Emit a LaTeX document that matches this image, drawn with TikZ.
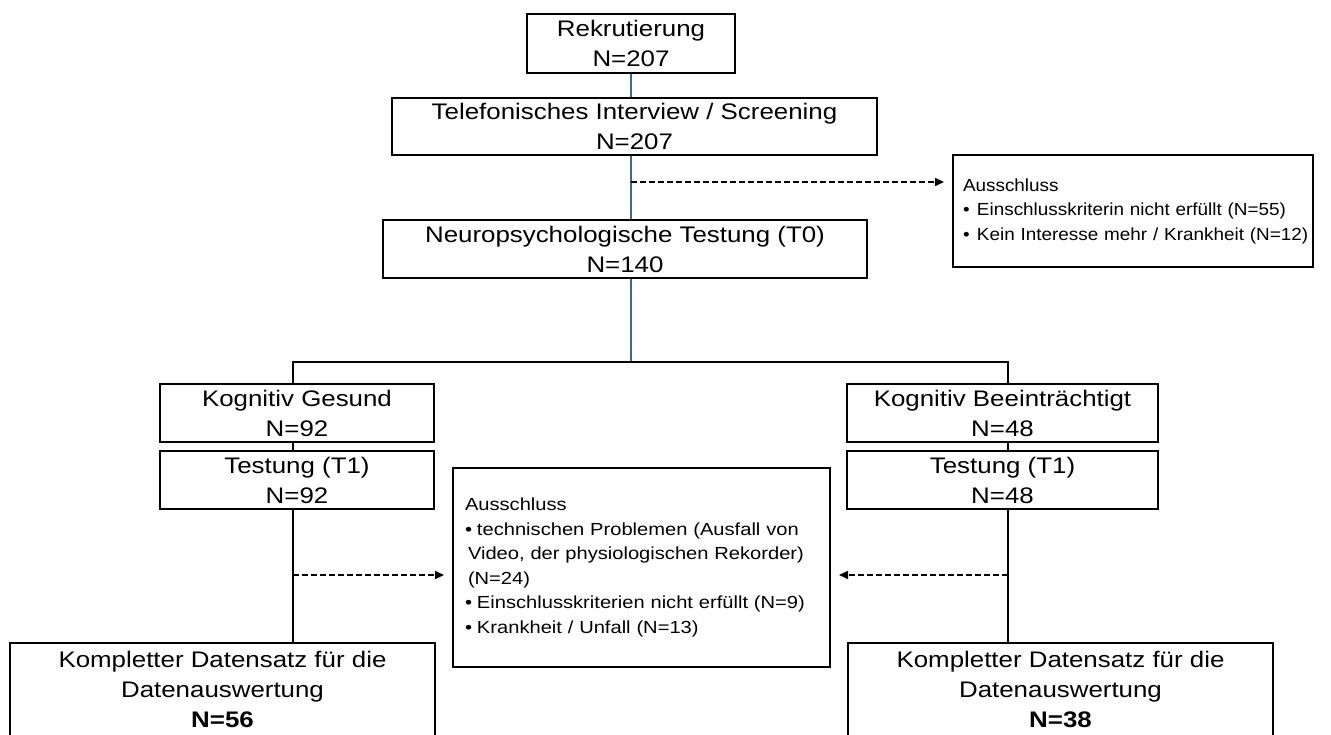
\documentclass[tikz,border=0pt]{standalone}
\usepackage{fontspec}
\setmainfont{Liberation Sans}[FakeStretch=1.15]
\newfontfamily\exnarrow{Liberation Sans}[FakeStretch=1.08]
\usetikzlibrary{arrows.meta}
\definecolor{connc}{HTML}{3A6A8C}
\newcommand\bigf{\fontsize{22.5pt}{30pt}\selectfont}
\newcommand\smallf{\fontsize{17.5pt}{24.5pt}\selectfont}
\newcommand\bul[1]{\makebox[#1][l]{•}}
\tikzset{
  box/.style={draw, line width=2pt, inner sep=0pt, align=center, font=\bigf},
  exbox/.style={draw, line width=2pt, inner ysep=0pt, align=left, font=\smallf},
  botbox/.style={draw, line width=2pt, inner sep=0pt, anchor=north},
  connline/.style={line width=2pt, draw=connc},
  blackline/.style={line width=2pt, draw=black},
  dasharrow/.style={line width=1.6pt, dash pattern=on 6pt off 3pt, -{Triangle[length=9pt,width=8pt]}, shorten >=8pt}
}
\begin{document}
\begin{tikzpicture}[x=1pt,y=-1pt]
\fill[white] (0,0) rectangle (1331,735);
\useasboundingbox (0,0) rectangle (1331,735);
\clip (0,0) rectangle (1331,735);

\node[box, minimum width=208pt, minimum height=59pt] (rek) at (631,43.5) {Rekrutierung\\N=207};
\node[box, minimum width=485pt, minimum height=57pt] (tel) at (634.5,126.5) {Telefonisches Interview / Screening\\N=207};
\node[box, minimum width=484pt, minimum height=58pt] (neuro) at (625,249) {Neuropsychologische Testung (T0)\\N=140};

\node[exbox, font=\exnarrow\smallf, text width=340pt, inner xsep=10pt, minimum height=112pt] (ex1) at (1133,211)
  {Ausschluss\\\mbox{\bul{14pt}Einschlusskriterin nicht erfüllt (N=55)}\\\mbox{\bul{14pt}Kein Interesse mehr / Krankheit (N=12)}};

\node[box, minimum width=274pt, minimum height=58pt] (kg) at (297,413) {Kognitiv Gesund\\N=92};
\node[box, minimum width=274pt, minimum height=58pt] (t1l) at (297,480) {Testung (T1)\\N=92};
\node[box, minimum width=311pt, minimum height=58pt] (kb) at (1002.5,413) {Kognitiv Beeinträchtigt\\N=48};
\node[box, minimum width=311pt, minimum height=58pt] (t1r) at (1002.5,480) {Testung (T1)\\N=48};

\node[exbox, text width=353pt, inner xsep=12pt, minimum height=199pt] (ex2) at (641.5,567.5)
  {Ausschluss\\\mbox{\bul{12pt}technischen Problemen (Ausfall von}\\\mbox{\hspace*{3pt}Video, der physiologischen Rekorder)}\\\hspace*{3pt}(N=24)\\\mbox{\bul{12pt}Einschlusskriterien nicht erfüllt (N=9)}\\\mbox{\bul{12pt}Krankheit / Unfall (N=13)}};

\node[botbox] (bl) at (222.5,641.5)
  {\parbox[t][98pt][t]{425pt}{\centering\bigf\rule{0pt}{25pt}Kompletter Datensatz für die\\Datenauswertung\\\textbf{N=56}}};
\node[botbox] (br) at (1060.5,641.5)
  {\parbox[t][98pt][t]{425pt}{\centering\bigf\rule{0pt}{25pt}Kompletter Datensatz für die\\Datenauswertung\\\textbf{N=38}}};

\coordinate (lx) at (293,0);
\coordinate (rx) at (1008,0);
\coordinate (mx) at (631,0);
\coordinate (bar) at (631,362);

\draw[connline] (rek.south) -- (tel.north -| rek.south);
\draw[connline] (tel.south -| mx) -- (neuro.north -| mx);
\draw[connline] (neuro.south -| mx) -- (bar);
\draw[blackline] (kg.north -| lx) |- (bar) -| (kb.north -| rx);
\draw[blackline] (kg.south -| lx) -- (t1l.north -| lx);
\draw[blackline] (t1l.south -| lx) -- (bl.north -| lx);
\draw[blackline] (kb.south -| rx) -- (t1r.north -| rx);
\draw[blackline] (t1r.south -| rx) -- (br.north -| rx);

\coordinate (d1) at (631,182);
\coordinate (d2) at (293,575);
\coordinate (d3) at (1008,575);
\draw[dasharrow] (d1) -- (d1 -| ex1.west);
\draw[dasharrow] (d2) -- (d2 -| ex2.west);
\draw[dasharrow] (d3) -- (d3 -| ex2.east);
\end{tikzpicture}
\end{document}
